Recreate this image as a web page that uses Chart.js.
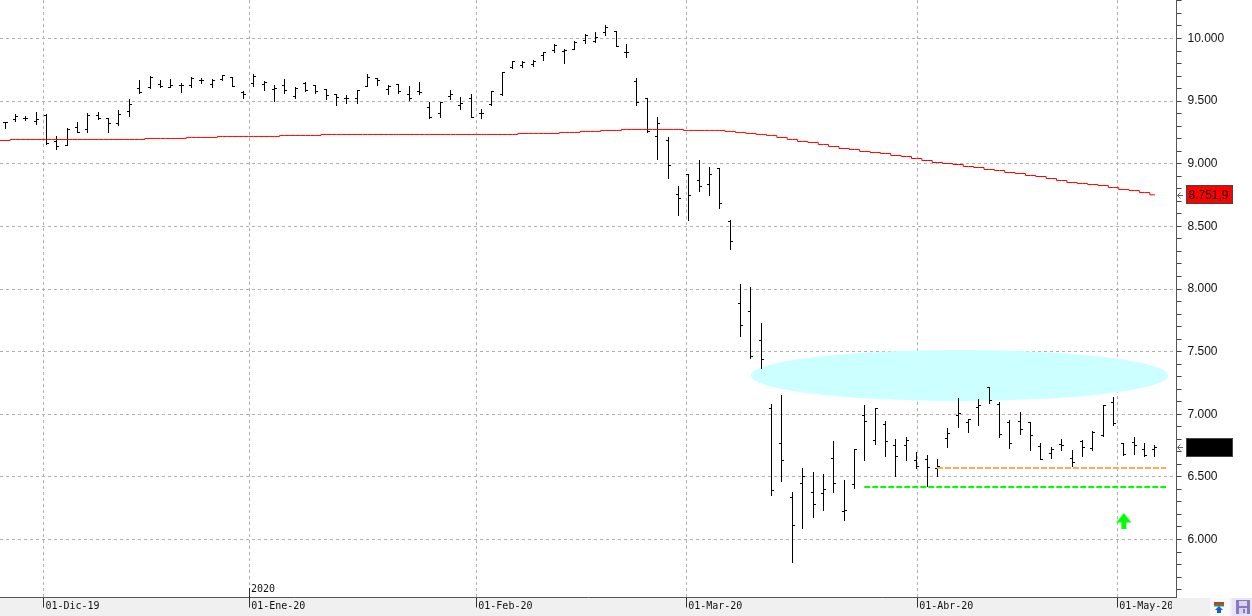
<!DOCTYPE html>
<html>
<head>
<meta charset="utf-8">
<title>IBEX daily bars</title>
<script src="https://cdn.jsdelivr.net/npm/chart.js@4/dist/chart.umd.min.js"></script>
<style>
  html, body { margin: 0; padding: 0; background: #fff; }
  canvas { display: block; }
</style>
</head>
<body>
<canvas id="chart" width="1252" height="616"></canvas>
<script>
// Daily OHLC prices, one entry per trading session.
const opens = [9331,9357,9363,9336,9387,9179,9147,9293,9277,9384,9365,9323,9421,9602,9607,9629,9610,9626,9621,9663,9631,9674,9687,9568,9642,9629,9589,9626,9538,9637,9621,
  9594,9554,9522,9522,9618,9682,9594,9629,9554,9578,9450,9403,9538,9466,9522,9405,9472,9552,9767,9786,9794,9866,9905,9895,9913,9983,9977,10047,10057,9892,
  9655,9517,9219,9187,8756,8916,8868,8836,8963,8540,
  7886,7822,7590,7047,6768,6337,6449,6377,6369,6648,6225,6441,6992,6792,6920,6752,6752,6632,6640,6569,6808,6992,
  6935,7055,7217,7074,6938,6943,6938,6741,6688,6757,6648,6786,6725,6829,7090,6768,6778,6722,6722];
const highs = [9331,9397,9379,9411,9397,9214,9283,9331,9403,9411,9365,9427,9509,9661,9698,9661,9669,9642,9685,9679,9669,9706,9690,9573,9714,9658,9626,9669,9610,9650,9626,
  9594,9554,9541,9586,9714,9682,9623,9634,9613,9645,9490,9493,9581,9530,9549,9437,9578,9730,9818,9818,9823,9889,9953,9913,9975,10028,10049,10105,10057,9953,
  9682,9522,9373,9211,8822,8916,9022,8974,8963,8548,
  8032,8013,7721,7079,7146,6372,6563,6531,6515,6779,6475,6720,7066,7042,6946,6795,6811,6691,6667,6635,6883,7122,
  6959,7121,7217,7090,6951,7010,6938,6770,6738,6802,6714,6794,6866,7066,7137,6770,6818,6770,6754];
const lows = [9285,9336,9344,9312,9155,9110,9144,9248,9248,9357,9248,9307,9376,9560,9602,9607,9607,9568,9610,9642,9610,9663,9615,9520,9615,9581,9496,9560,9517,9576,9560,
  9509,9469,9480,9480,9615,9623,9552,9557,9504,9554,9360,9368,9512,9437,9368,9360,9464,9546,9762,9767,9775,9823,9887,9799,9911,9959,9967,10023,9935,9847,
  9464,9248,9030,8881,8586,8546,8777,8745,8641,8314,
  7620,7444,7364,6348,6467,5813,6084,6172,6228,6372,6148,6404,6627,6755,6659,6505,6627,6563,6420,6507,6731,6898,
  6858,6914,7082,6818,6730,6842,6714,6635,6650,6714,6579,6666,6714,6821,6914,6674,6682,6666,6666];
const closes = [9331,9379,9363,9355,9163,9139,9277,9251,9387,9360,9323,9392,9474,9570,9687,9615,9626,9621,9679,9663,9663,9701,9618,9549,9695,9650,9602,9586,9599,9584,9578,
  9544,9530,9517,9581,9690,9666,9618,9576,9522,9570,9371,9490,9554,9482,9371,9405,9573,9725,9815,9812,9815,9887,9945,9908,9967,10023,10009,10089,9937,9892,
  9488,9259,9323,8987,8724,8748,8820,8916,8684,8381,
  7710,7463,7439,6393,6632,6113,6505,6281,6401,6449,6233,6720,6944,7042,6784,6664,6792,6584,6576,6579,6848,7008,
  6959,7071,7111,6837,6768,6879,6831,6640,6722,6752,6616,6738,6858,7066,6927,6680,6752,6672,6735];

// Long moving average, starting one session before the first visible bar.
const movingAverage = [9186,9186,
  9194,9194,9194,9194,9194,9194,9194,9194,9194,9194,9194,9194,9194,
  9202,9202,9202,9202,9210,9210,9210,9218,9218,9218,9218,9218,9218,9226,9226,9226,9226,
  9234,9234,9234,9234,9234,9234,9234,9234,9234,9234,9234,9234,9234,9234,9234,9234,9234,9234,9234,
  9242,9242,9242,9242,9250,9250,9258,9258,9266,9266,9274,9274,9274,9274,9274,9274,
  9266,9266,9266,9266,9258,9250,9242,9234,9226,9210,9194,9178,9170,9154,9138,9122,9114,9098,9090,9082,
  9066,9058,9042,9026,9010,9002,8994,8978,8970,8954,8946,8930,8922,8906,8898,8882,8866,8850,8842,8834,8826,8810,8794,8786,8770,8751.9];

// Support levels drawn by hand on the chart: session index and price.
const resistanceX = [90.06, 90.73, 112.07];
const resistanceY = [6579, 6571, 6571];
const supportX = [83.04, 83.7, 112.07];
const supportY = [6427, 6419, 6419];

// Highlighted congestion zone (session span and price span) and buy signal.
const zoneSessions = [72.0, 112.26];
const zonePrices = [7106, 7513];
const signalSession = [108];
const signalPrice = [6148];

// Axis content.
const dateTickSessions = [3.72, 23.58, 45.5, 65.76, 88.06, 107.36];
const dateTickLabels = ['01-Dic-19', '01-Ene-20', '01-Feb-20', '01-Mar-20', '01-Abr-20', '01-May-20'];
const yearMarkLabel = '2020';
const priceTicks = [5600,5700,5800,5900,6000,6100,6200,6300,6400,6500,6600,6700,6800,6900,7000,7100,7200,7300,7400,7500,7600,7700,7800,7900,8000,8100,8200,8300,8400,8500,8600,8700,8800,8900,9000,9100,9200,9300,9400,9500,9600,9700,9800,9900,10000,10100,10200,10300];
const priceLabelStep = 500;

const fmtThousands = v => String(Math.trunc(v)).replace(/\B(?=(\d{3})+$)/g, '.');

// Bar-chart (OHLC) controller: the stem spans low to high, with a left tick at
// the open and a right tick at the close, snapped to whole pixels.
class OhlcController extends Chart.BarController {
  draw() {
    const meta = this.getMeta();
    const ctx = this.chart.ctx;
    const yScale = meta.vScale;
    const ds = this.getDataset();
    ctx.save();
    ctx.fillStyle = ds.stemColor;
    meta.data.forEach((el, i) => {
      const x = Math.round(el.x - 0.5);
      const top = Math.floor(yScale.getPixelForValue(ds.highValues[i]));
      const bottom = Math.floor(yScale.getPixelForValue(ds.lowValues[i]));
      const o = Math.floor(yScale.getPixelForValue(ds.openValues[i]));
      const c = Math.floor(yScale.getPixelForValue(ds.closeValues[i]));
      ctx.fillRect(x, top, 1, bottom - top + 1);
      ctx.fillRect(x - 2, o, 2, 1);
      ctx.fillRect(x + 1, c, 2, 1);
    });
    ctx.restore();
  }
}
OhlcController.id = 'ohlc';
OhlcController.defaults = Chart.BarController.defaults;
OhlcController.overrides = Chart.BarController.overrides;
Chart.register(OhlcController);

// Upward arrow marker used as a point style.
function makeArrow() {
  const c = document.createElement('canvas');
  c.width = 15; c.height = 16;
  const g = c.getContext('2d');
  g.fillStyle = '#00ff00';
  g.beginPath();
  g.moveTo(7.5, 0); g.lineTo(15, 9.5); g.lineTo(10, 9.5); g.lineTo(10, 16);
  g.lineTo(5, 16); g.lineTo(5, 9.5); g.lineTo(0, 9.5);
  g.closePath(); g.fill();
  return c;
}

// Paint order helpers: page background, zone ellipse, boxes and the toolbar.
const decorations = {
  id: 'decorations',
  beforeDraw(chart) {
    const { ctx, width, height } = chart;
    ctx.save();
    ctx.fillStyle = '#ffffff';
    ctx.fillRect(0, 0, width, height);
    ctx.fillStyle = '#f0f0f0';
    ctx.fillRect(0, 598, width, height - 598);
    ctx.restore();
  },
  beforeDatasetsDraw(chart) {
    const { ctx, scales: { x, y } } = chart;
    const x0 = x.getPixelForValue(zoneSessions[0]), x1 = x.getPixelForValue(zoneSessions[1]);
    const y0 = y.getPixelForValue(zonePrices[1]), y1 = y.getPixelForValue(zonePrices[0]);
    ctx.save();
    ctx.fillStyle = '#ccffff';
    ctx.beginPath();
    ctx.ellipse((x0 + x1) / 2, (y0 + y1) / 2, (x1 - x0) / 2, (y1 - y0) / 2, 0, 0, Math.PI * 2);
    ctx.fill();
    ctx.restore();
  },
  afterDraw(chart) {
    const { ctx, scales: { x, y } } = chart;
    ctx.save();

    // Year mark over the January tick.
    const jan = Math.round(x.getPixelForValue(dateTickSessions[1]) - 0.5);
    ctx.fillStyle = '#333333';
    ctx.fillRect(jan, 588, 1, 10);
    ctx.fillStyle = '#111111';
    ctx.font = '10px "DejaVu Sans Mono"';
    ctx.textBaseline = 'middle';
    ctx.textAlign = 'left';
    ctx.fillText(yearMarkLabel, jan + 2, 589.5);

    // The date strip ends just short of the toolbar.
    ctx.fillStyle = '#f0f0f0';
    ctx.fillRect(1172, 598, 36, 18);

    // Last-value boxes on the price axis.
    const lastAvg = movingAverage[movingAverage.length - 1];
    const lastClose = closes[closes.length - 1];
    const yAvg = Math.round(y.getPixelForValue(lastAvg));
    const yClose = Math.round(y.getPixelForValue(lastClose));
    ctx.lineWidth = 1;
    ctx.strokeStyle = '#444444';
    ctx.fillStyle = '#ff0000';
    ctx.fillRect(1186, yAvg - 10, 47, 19);
    ctx.strokeRect(1186.5, yAvg - 9.5, 46, 18);
    ctx.fillStyle = '#000000';
    ctx.fillRect(1186, yClose - 9, 47, 19);
    ctx.strokeRect(1186.5, yClose - 8.5, 46, 18);
    ctx.fillStyle = '#111111';
    ctx.font = '12px "Liberation Sans"';
    ctx.textAlign = 'left';
    ctx.textBaseline = 'middle';
    ctx.fillText(fmtThousands(lastAvg) + ',' + String(lastAvg).split('.')[1], 1188.5, yAvg + 0.5);

    // Small pointers from the axis to each box.
    ctx.strokeStyle = '#666666';
    [yAvg, yClose].forEach(py => {
      ctx.beginPath();
      ctx.moveTo(1183, py + 0.5); ctx.lineTo(1177.5, py + 0.5);
      ctx.moveTo(1180.5, py - 2.5); ctx.lineTo(1177.5, py + 0.5); ctx.lineTo(1180.5, py + 3.5);
      ctx.stroke();
    });

    // Toolbar buttons.
    ctx.fillStyle = '#fafafa';
    ctx.fillRect(1210, 598, 20, 18);
    ctx.fillStyle = '#e8e4f4';
    ctx.fillRect(1232, 598, 20, 18);
    ctx.fillStyle = '#c43a30';
    ctx.fillRect(1214, 602, 10, 2);
    ctx.fillStyle = '#3c8a3c';
    ctx.fillRect(1214, 604, 10, 2);
    ctx.fillStyle = '#c8b8a0';
    ctx.fillRect(1214, 606, 10, 1);
    ctx.fillStyle = '#1060e0';
    ctx.beginPath();
    ctx.moveTo(1219, 606); ctx.lineTo(1223, 610); ctx.lineTo(1221, 610); ctx.lineTo(1221, 613);
    ctx.lineTo(1217, 613); ctx.lineTo(1217, 610); ctx.lineTo(1215, 610);
    ctx.closePath(); ctx.fill();
    ctx.fillStyle = '#8878c4';
    ctx.fillRect(1236, 600, 14, 14);
    ctx.fillStyle = '#d8d4ec';
    ctx.fillRect(1239, 601, 8, 5);
    ctx.fillRect(1239, 608, 8, 6);
    ctx.fillStyle = '#8878c4';
    ctx.fillRect(1243, 609, 2, 4);
    ctx.restore();
  }
};

new Chart(document.getElementById('chart'), {
  data: {
    datasets: [
      {
        type: 'ohlc',
        label: 'OHLC',
        data: highs.map((h, i) => ({ x: i, y: [lows[i], h] })),
        openValues: opens,
        highValues: highs,
        lowValues: lows,
        closeValues: closes,
        stemColor: '#000000',
        barThickness: 1,
        order: 2
      },
      {
        type: 'line',
        label: 'Media',
        data: movingAverage.map((v, i) => ({ x: i - 1, y: v })),
        borderColor: '#ff0000',
        borderWidth: 1,
        pointRadius: 0,
        stepped: 'middle',
        order: 1
      },
      {
        type: 'line',
        label: 'Resistencia',
        data: resistanceX.map((v, i) => ({ x: v, y: resistanceY[i] })),
        borderColor: '#ffaa55',
        borderWidth: 2,
        borderDash: [6, 2],
        pointRadius: 0,
        stepped: 'after',
        order: 1
      },
      {
        type: 'line',
        label: 'Soporte',
        data: supportX.map((v, i) => ({ x: v, y: supportY[i] })),
        borderColor: '#00ff00',
        borderWidth: 2,
        borderDash: [6, 2],
        pointRadius: 0,
        stepped: 'after',
        order: 1
      },
      {
        type: 'scatter',
        label: 'Señal',
        data: signalSession.map((v, i) => ({ x: v, y: signalPrice[i] })),
        pointStyle: makeArrow(),
        pointRadius: 8,
        order: 0
      }
    ]
  },
  options: {
    responsive: false,
    animation: false,
    events: [],
    layout: { padding: { top: -8 }, autoPadding: false },
    plugins: { legend: { display: false }, tooltip: { enabled: false } },
    scales: {
      x: {
        type: 'linear',
        offset: false,
        min: -0.483,
        max: 113.08,
        afterBuildTicks(scale) { scale.ticks = dateTickSessions.map(v => ({ value: v })); },
        afterFit(scale) {
          scale.height = 18.5;
          scale.paddingLeft = 0;
          scale.paddingRight = 0;
          scale.paddingTop = 0;
          scale.paddingBottom = 0;
        },
        grid: { color: '#b0b0b0', tickColor: '#333333', tickLength: 10, offset: false },
        border: { color: '#555555', width: 1, dash: [3, 3] },
        ticks: {
          autoSkip: false,
          maxRotation: 0,
          minRotation: 0,
          padding: -7,
          labelOffset: 29,
          color: '#111111',
          font: { family: '"DejaVu Sans Mono"', size: 10 },
          callback(value) { return dateTickLabels[dateTickSessions.indexOf(value)]; }
        }
      },
      y: {
        type: 'linear',
        position: 'right',
        min: 5536.944,
        max: 10307.384,
        afterBuildTicks(scale) { scale.ticks = priceTicks.map(v => ({ value: v })); },
        afterFit(scale) {
          scale.width = 75.5;
          scale.paddingLeft = 0;
          scale.paddingRight = 0;
          scale.paddingTop = 0;
          scale.paddingBottom = 0;
        },
        grid: {
          color: ctx => (ctx.tick && ctx.tick.value % priceLabelStep === 0 ? '#b0b0b0' : 'rgba(0,0,0,0)'),
          tickColor: '#444444',
          tickLength: 5
        },
        border: { color: '#555555', width: 1, dash: [3, 3] },
        ticks: {
          autoSkip: false,
          padding: 6,
          color: '#111111',
          font: { family: '"Liberation Sans"', size: 12 },
          callback(value) { return value % priceLabelStep === 0 ? fmtThousands(value) : ''; }
        }
      }
    }
  },
  plugins: [decorations]
});
</script>
</body>
</html>
